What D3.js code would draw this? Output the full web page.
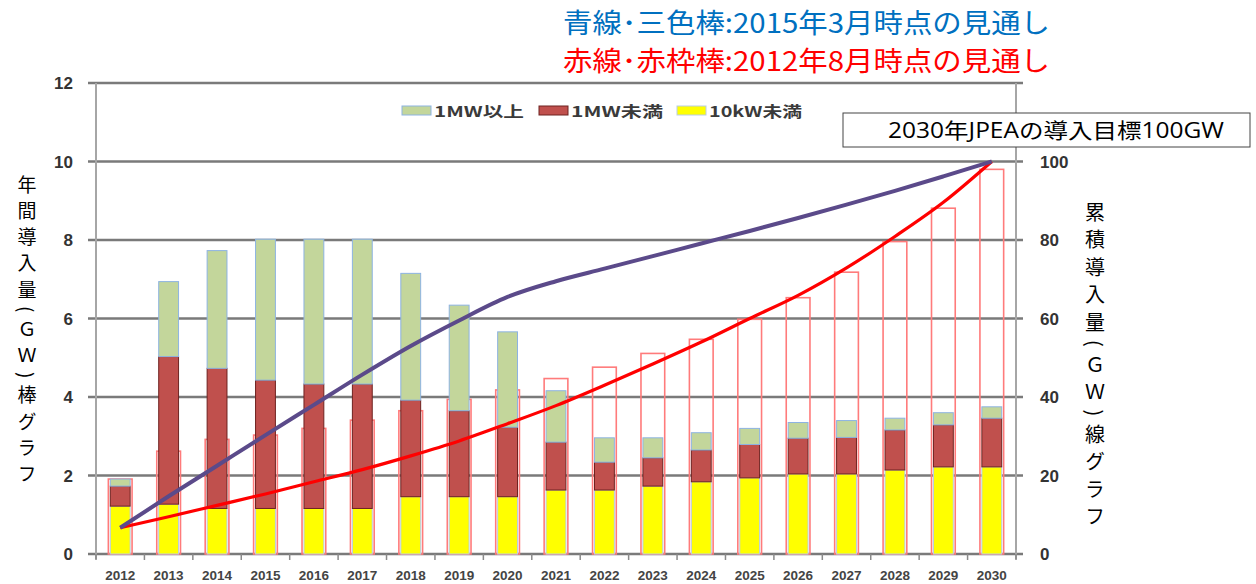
<!DOCTYPE html>
<html><head><meta charset="utf-8">
<script src="https://cdn.jsdelivr.net/npm/d3@7/dist/d3.min.js"></script>
<style>body{margin:0;background:#fff}svg{display:block}</style>
</head><body>
<svg id="c" width="1256" height="584"></svg>
<script>
// ---- data ----
const years = ["2012","2013","2014","2015","2016","2017","2018","2019","2020","2021","2022","2023","2024","2025","2026","2027","2028","2029","2030"];
// 2015年3月時点の見通し（年間導入量 GW）
const below10kW = [1.22,1.27,1.16,1.16,1.16,1.16,1.46,1.46,1.46,1.63,1.63,1.73,1.84,1.94,2.04,2.04,2.14,2.22,2.22];
const below1MW  = [0.51,3.76,3.57,3.27,3.17,3.17,2.46,2.19,1.77,1.22,0.71,0.72,0.81,0.85,0.91,0.93,1.02,1.07,1.24];
const over1MW   = [0.18,1.91,3.00,3.59,3.69,3.69,3.23,2.69,2.43,1.31,0.62,0.51,0.44,0.41,0.40,0.43,0.30,0.31,0.29];
// 2012年8月時点の見通し（年間導入量 GW, 赤枠棒）
const annual2012 = [1.91,2.62,2.92,3.03,3.20,3.41,3.65,3.94,4.18,4.47,4.76,5.11,5.47,5.98,6.53,7.18,7.96,8.81,9.80];
// 累積導入量 GW
const cum2015 = [6.7,14.7,22.5,30.3,38.0,45.7,53.0,59.5,65.5,69.5,72.7,75.9,79.1,82.3,85.6,89.0,92.5,96.2,100];
const cum2012 = [6.7,9.5,12.4,15.3,18.4,21.5,25.0,28.8,33.2,37.8,43.0,48.4,54.0,60.0,65.9,72.9,80.9,89.6,100];
const leftTicks = [0,2,4,6,8,10,12];
const rightTicks = [0,20,40,60,80,100];
const legendItems = ["1MW以上","1MW未満","10kW未満"];

// ---- layout ----
const svg = d3.select("#c");
const X0 = 96, X1 = 1016, Y0 = 554, Y1 = 83;
const x = d3.scaleBand().domain(years).range([X0, X1]);
const yL = d3.scaleLinear().domain([0,12]).range([Y0, Y1]);
const yR = d3.scaleLinear().domain([0,120]).range([Y0, Y1]);
const bw = x.bandwidth();
const cx = d => x(d) + bw/2;
const CJK = "'Noto Sans CJK JP','Noto Sans',sans-serif";

// titles
svg.append("text").attr("x",563).attr("y",33).attr("font-family",CJK).attr("font-size",27)
  .attr("fill","#0070c0").attr("textLength",487).attr("lengthAdjust","spacingAndGlyphs")
  .text("青線･三色棒:2015年3月時点の見通し");
svg.append("text").attr("x",563).attr("y",71).attr("font-family",CJK).attr("font-size",27)
  .attr("fill","#ff0000").attr("textLength",487).attr("lengthAdjust","spacingAndGlyphs")
  .text("赤線･赤枠棒:2012年8月時点の見通し");

// gridlines
svg.append("g").selectAll("line").data(leftTicks).join("line")
  .attr("x1",88).attr("x2",1023).attr("y1",d=>yL(d)).attr("y2",d=>yL(d))
  .attr("stroke","#7a7a7a").attr("stroke-width",2.5);
// axis lines
svg.append("line").attr("x1",X0).attr("x2",X0).attr("y1",Y1).attr("y2",Y0+5).attr("stroke","#a6a6a6").attr("stroke-width",2);
svg.append("line").attr("x1",X1).attr("x2",X1).attr("y1",Y1).attr("y2",Y0+5).attr("stroke","#a6a6a6").attr("stroke-width",2);
// x ticks at band boundaries
svg.append("g").selectAll("line").data(years.concat(["end"])).join("line")
  .attr("x1",(d,i)=>X0+i*bw).attr("x2",(d,i)=>X0+i*bw).attr("y1",Y0).attr("y2",Y0+6)
  .attr("stroke","#8a8a8a").attr("stroke-width",1.5);

// left tick labels
svg.append("g").selectAll("text").data(leftTicks).join("text")
  .attr("x",73).attr("y",d=>yL(d)+6).attr("text-anchor","end")
  .attr("font-family","'Liberation Sans',Arial,sans-serif").attr("font-weight","bold").attr("font-size",17)
  .attr("fill","#333").text(d=>d);
// right tick labels
svg.append("g").selectAll("text").data(rightTicks).join("text")
  .attr("x",1040).attr("y",d=>yR(d)+6).attr("text-anchor","start")
  .attr("font-family","'Liberation Sans',Arial,sans-serif").attr("font-weight","bold").attr("font-size",17)
  .attr("fill","#333").text(d=>d);
// x labels
svg.append("g").selectAll("text").data(years).join("text")
  .attr("x",d=>cx(d)).attr("y",580).attr("text-anchor","middle")
  .attr("font-family","'Liberation Sans',Arial,sans-serif").attr("font-weight","bold").attr("font-size",13.5)
  .attr("fill","#444").text(d=>d);

// outline bars (2012 forecast)
const ow = bw*0.49;
svg.append("g").selectAll("rect").data(years).join("rect")
  .attr("x",d=>cx(d)-ow/2).attr("width",ow)
  .attr("y",(d,i)=>yL(annual2012[i])).attr("height",(d,i)=>Y0-yL(annual2012[i]))
  .attr("fill","none").attr("stroke","#ff7b7b").attr("stroke-width",1.6);

// stacked bars (2015 forecast)
const sw = bw*0.41;
const seriesDefs = [
  {fill:"#ffff00", stroke:"#b9cde5"},
  {fill:"#c0504d", stroke:"#6e2220"},
  {fill:"#c3d69b", stroke:"#8db3e2"}
];
const stackData = years.map((y,i)=>({year:y, a:below10kW[i], b:below1MW[i], c:over1MW[i]}));
const stacked = d3.stack().keys(["a","b","c"])(stackData);
stacked.forEach((layer,k)=>{
  svg.append("g").selectAll("rect").data(layer).join("rect")
    .attr("x",d=>cx(d.data.year)-sw/2).attr("width",sw)
    .attr("y",d=>yL(d[1])).attr("height",d=>yL(d[0])-yL(d[1]))
    .attr("fill",seriesDefs[k].fill).attr("stroke",seriesDefs[k].stroke).attr("stroke-width",1);
});

// lines
const line = d3.line().x((d,i)=>cx(years[i])).y(d=>yR(d)).curve(d3.curveMonotoneX);
svg.append("path").attr("d",line(cum2012)).attr("fill","none").attr("stroke","#ff0000").attr("stroke-width",3.2);
svg.append("path").attr("d",line(cum2015)).attr("fill","none").attr("stroke","#5b4a8a").attr("stroke-width",4);

// legend
const legX = [402, 539, 677];
const legTextW = [90, 92, 93];
const legColors = [seriesDefs[2], seriesDefs[1], seriesDefs[0]];
legendItems.forEach((t,i)=>{
  svg.append("rect").attr("x",legX[i]).attr("y",106).attr("width",29).attr("height",9)
    .attr("fill",legColors[i].fill).attr("stroke",legColors[i].stroke).attr("stroke-width",1);
  svg.append("text").attr("x",legX[i]+32).attr("y",117).attr("font-family",CJK).attr("font-weight","bold")
    .attr("font-size",15).attr("fill","#3a3a3a").attr("textLength",legTextW[i]).attr("lengthAdjust","spacingAndGlyphs").text(t);
});

// annotation box
svg.append("rect").attr("x",843).attr("y",113).attr("width",407).attr("height",34)
  .attr("fill","#fff").attr("stroke","#444").attr("stroke-width",1);
svg.append("text").attr("x",888).attr("y",138).attr("font-family","'Open Sans','Noto Sans CJK JP',sans-serif")
  .attr("font-size",21).attr("fill","#000").attr("textLength",336).attr("lengthAdjust","spacingAndGlyphs")
  .text("2030年JPEAの導入目標100GW");

// vertical axis titles (single vertical text each)
function vtitle(str, xc, ytop, fs, ls){
  svg.append("text").attr("x",xc).attr("y",ytop)
    .style("writing-mode","vertical-rl").style("letter-spacing",ls+"px")
    .attr("font-family",CJK).attr("font-size",fs).attr("fill","#000").text(str);
}
vtitle("年間導入量(ＧＷ)棒グラフ", 27, 175, 19, 7.2);
vtitle("累積導入量(ＧＷ)線グラフ", 1095, 202, 20, 7.6);
</script>
</body></html>
